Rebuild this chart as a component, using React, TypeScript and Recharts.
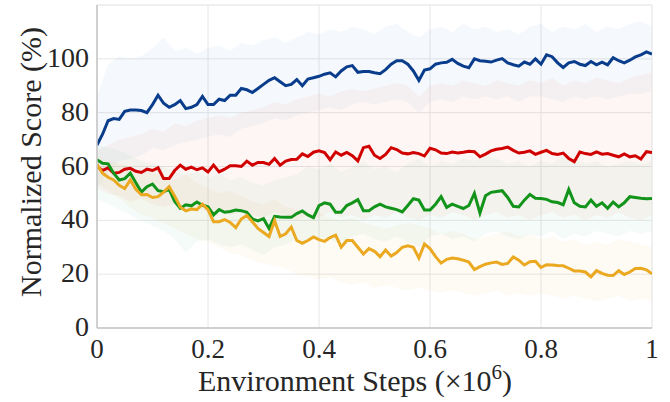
import {
  ComposedChart,
  Line,
  Area,
  XAxis,
  YAxis,
  CartesianGrid,
  ReferenceLine,
} from 'recharts';

// Normalized score curves, 101 evaluation points over 1e6 env steps.
// Shaded bands are sampled every 0.02 (51 points).

const FONT = 'Liberation Serif, Times New Roman, Times, serif';

const xTicks = [0, 0.2, 0.4, 0.6, 0.8, 1];
const yTicks = [0, 20, 40, 60, 80, 100];

const blueMean = [
  68, 72, 77, 77.8, 77.5, 80.5, 81, 81, 80.8, 80, 83, 86.5, 83.5, 82, 83, 84.5, 81.5, 82, 83, 86, 83, 83, 85, 84.5, 86.5, 86.5,
  89, 88.5, 87.5, 89, 90.5, 92, 93, 91.5, 90, 90.5, 92.3, 90, 92.5, 93, 93.5, 94.3, 94.8, 93.3, 95.5, 97, 97.5, 95, 95.3, 95.3, 94.8,
  94.5, 96, 98, 99.3, 99.3, 98, 95.5, 92, 95.8, 96.3, 98, 98.5, 98.7, 99.8, 98.3, 97.3, 96.7, 100, 99.3, 99.1, 98.8, 99.5, 100.1, 98.5, 97.8,
  97.3, 98.8, 98, 100, 98, 101.5, 100.8, 98.5, 96.8, 98.5, 99, 98, 97.5, 99, 97.8, 98.8, 97.8, 100.4, 99.3, 98.5, 99.5, 100.7, 101.5, 102.6, 101.8,
];
const redMean = [
  60, 58.5, 59.5, 57.5, 57.8, 59, 59.3, 58.2, 57.8, 59, 58.5, 59.5, 55.5, 55.5, 58.5, 60.5, 59, 59.8, 58.8, 59.5, 58, 60.5, 58, 59, 60.3, 60.3,
  60, 62, 60.5, 61.5, 61.5, 60.8, 63, 60.5, 62, 62.6, 62.7, 64.7, 63.7, 65.3, 65.8, 65.2, 62.5, 65.4, 64.2, 65.2, 64, 62.1, 67, 67.5, 64.2,
  63, 64.5, 67, 66.3, 65, 64.7, 65.2, 64.8, 63.9, 66.8, 66.2, 65, 64.8, 65.4, 65, 65.3, 65.7, 65.5, 63.6, 64.6, 65.8, 66.4, 66.7, 67.2, 66,
  65, 65.3, 65.8, 64.5, 65.3, 66, 64.8, 64.5, 65, 63, 61.8, 65.4, 64.8, 64.5, 65.4, 64.6, 64.8, 64.2, 63.6, 64.7, 63.6, 64, 62.8, 65.5, 65.2,
];
const greenMean = [
  62.5, 61.2, 61, 57.5, 55, 55.5, 57.5, 54, 50.5, 52.5, 53.5, 51, 50.6, 51.5, 47, 44.5, 45.8, 45.4, 46.8, 45.6, 45, 42, 44, 43, 43.3, 43.8,
  43.6, 43, 40.5, 39.8, 40.6, 37, 41.5, 41.2, 41.1, 41.1, 42.5, 43.5, 42, 41, 45.5, 46.5, 46, 43, 43, 45.5, 46.5, 47.7, 43.6, 43.6, 45,
  46, 45, 44.5, 44, 43.1, 45.5, 48, 47.5, 43.8, 43.8, 46, 48.8, 44.8, 46, 45.2, 44.4, 45.5, 50, 42.7, 49.1, 50.4, 50.7, 51, 48.5, 45.2,
  45, 47.5, 49.6, 48.2, 48.1, 47.8, 46.9, 46.6, 45.8, 51.5, 46.5, 45.2, 45, 47.5, 45.2, 46.5, 44.5, 46.8, 45, 46.5, 48.8, 48.5, 48.2, 48, 48.1,
];
const orangeMean = [
  60.8, 57.5, 56, 55, 53, 51.8, 55, 51.5, 49.5, 49.6, 48.5, 48.8, 50.5, 52.5, 49, 45, 43.5, 44.2, 44, 46, 44, 39.5, 39.5, 40.3, 39.2, 37.3,
  40.5, 41.8, 39.5, 37, 35.5, 34, 39.9, 34, 35, 37.5, 32.5, 31.5, 32.5, 33.8, 32.8, 32.2, 33.6, 34.5, 30, 32.5, 32.5, 30, 27.5, 29.5, 28.5,
  26.5, 29, 26.7, 28, 30, 30.5, 30, 26, 31.2, 29.5, 26.5, 24.1, 25.5, 26, 25.7, 25.2, 24.5, 21.7, 22.8, 23.7, 24.2, 24.5, 23.6, 24, 26.4,
  25.2, 23.4, 24.6, 24.8, 22.5, 23.5, 23.4, 23.2, 23.1, 22.2, 21.2, 21.2, 20.8, 19, 21.3, 20.3, 19.6, 19.5, 21.3, 19.9, 20.8, 22.1, 22.2, 21.6, 20.1,
];

const blueHi = [
  86, 98, 101, 100, 101, 104, 108, 103, 104, 102, 104, 105, 103, 106, 105, 107, 108, 106, 108, 110, 109, 111, 110, 112, 111,
  109, 112, 113, 110, 108, 111, 112, 110, 113, 111, 112, 110, 111, 109, 112, 113, 110, 112, 111, 113, 110, 112, 111, 113, 114, 112,
];
const blueLo = [
  52, 58, 62, 63, 64, 67, 66, 68, 69, 70, 71, 72, 71, 74, 75, 76, 78, 77, 79, 80, 81, 82, 81, 83, 84,
  83, 84, 85, 84, 80, 84, 85, 84, 86, 85, 86, 85, 86, 84, 86, 86, 85, 84, 86, 85, 86, 85, 86, 87, 87, 88,
];
const redHi = [
  66, 68, 70, 71, 72, 74, 73, 76, 75, 77, 78, 79, 78, 80, 81, 82, 84, 83, 85, 86, 87, 86, 88, 89, 88,
  89, 90, 91, 90, 86, 90, 91, 90, 92, 91, 90, 92, 91, 90, 92, 91, 93, 90, 92, 91, 93, 92, 91, 93, 94, 95,
];
const redLo = [
  52, 50, 49, 47, 48, 46, 45, 46, 44, 45, 43, 44, 42, 43, 42, 41, 43, 42, 40, 42, 41, 43, 41, 42, 40,
  42, 41, 43, 41, 40, 42, 41, 43, 42, 40, 42, 43, 41, 42, 40, 42, 43, 41, 42, 40, 42, 41, 43, 41, 40, 42,
];
const greenHi = [
  68, 67, 66, 64, 62, 61, 60, 58, 57, 58, 56, 57, 55, 56, 54, 53, 55, 56, 57, 60, 59, 61, 58, 60, 62,
  59, 60, 58, 61, 63, 60, 62, 61, 63, 62, 64, 63, 61, 62, 60, 62, 61, 64, 63, 61, 62, 60, 61, 62, 61, 62,
];
const greenLo = [
  48, 46, 44, 42, 40, 38, 36, 33, 28, 32, 33, 31, 30, 31, 29, 27, 30, 31, 33, 32, 34, 33, 31, 34, 35,
  33, 32, 34, 32, 30, 34, 35, 33, 34, 32, 35, 36, 34, 33, 35, 34, 36, 33, 35, 34, 36, 35, 34, 36, 35, 36,
];
const orangeHi = [
  64, 62, 61, 60, 58, 58, 56, 55, 57, 54, 52, 50, 51, 49, 47, 46, 48, 45, 44, 42, 43, 41, 40, 41, 39,
  38, 37, 38, 39, 38, 37, 35, 36, 35, 33, 34, 35, 36, 34, 35, 33, 34, 32, 33, 31, 32, 31, 33, 32, 31, 30,
];
const orangeLo = [
  54, 51, 48, 45, 42, 41, 39, 37, 35, 33, 32, 30, 28, 27, 25, 24, 23, 22, 20, 19, 18, 19, 17, 16, 17,
  15, 16, 15, 14, 15, 14, 13, 14, 13, 12, 13, 14, 12, 13, 12, 13, 12, 11, 12, 11, 10, 11, 12, 10, 11, 10,
];

const series = [
  { key: 'blue', mean: blueMean, lo: blueLo, hi: blueHi, line: '#0a3c8c', fill: '#4f93d6' },
  { key: 'red', mean: redMean, lo: redLo, hi: redHi, line: '#d00000', fill: '#e8684a' },
  { key: 'green', mean: greenMean, lo: greenLo, hi: greenHi, line: '#12941a', fill: '#3fb58a' },
  { key: 'orange', mean: orangeMean, lo: orangeLo, hi: orangeHi, line: '#eaa921', fill: '#f0b040' },
];

const toLine = (mean: number[]) => mean.map((v, i) => ({ x: i / (mean.length - 1), y: v }));
const toBand = (lo: number[], hi: number[]) =>
  lo.map((v, i) => ({ x: i / (lo.length - 1), band: [v, hi[i]] }));

const fmtX = (v: number) => (v === 0 || v === 1 ? String(v) : v.toFixed(1));

const textStyle = { fontFamily: FONT, fill: '#262626' };

function XTick({ x, y, payload }: any) {
  return (
    <text x={x} y={y} dy={22} textAnchor="middle" fontSize={27} style={textStyle}>
      {fmtX(payload.value)}
    </text>
  );
}

function YTick({ x, y, payload }: any) {
  return (
    <text x={x} y={y} dy={8} textAnchor="end" fontSize={28} style={textStyle}>
      {payload.value}
    </text>
  );
}

export default function App() {
  return (
    <div style={{ position: 'absolute', left: 0, top: 0, background: '#fff' }}>
      <ComposedChart width={670} height={402} margin={{ top: 5, right: 18, left: 0, bottom: 0 }}>
        <CartesianGrid stroke="#e6e6e6" strokeWidth={1} />
        <XAxis
          type="number"
          dataKey="x"
          domain={[0, 1]}
          ticks={xTicks}
          allowDataOverflow
          height={74}
          axisLine={{ stroke: '#c4c4c4', strokeWidth: 1.5 }}
          tickLine={false}
          tick={<XTick />}
          label={{
            content: () => (
              <text x={198} y={391} fontSize={30} style={textStyle}>
                Environment Steps (×10
                <tspan dy={-12} fontSize={21}>6</tspan>
                <tspan dy={12}>)</tspan>
              </text>
            ),
          }}
        />
        <YAxis
          type="number"
          domain={[0, 120]}
          ticks={yTicks}
          allowDataOverflow
          width={97}
          axisLine={{ stroke: '#c4c4c4', strokeWidth: 1.5 }}
          tickLine={false}
          tick={<YTick />}
          label={{
            content: () => (
              <text
                x={30}
                y={162}
                transform="rotate(-90, 30, 162)"
                textAnchor="middle"
                dominantBaseline="central"
                fontSize={30}
                style={textStyle}
              >
                Normalized Score (%)
              </text>
            ),
          }}
        />
        <ReferenceLine y={120} stroke="#ececec" />
        <ReferenceLine x={1} stroke="#ececec" />
        {series.map((s) => (
          <Area
            key={`${s.key}-band`}
            data={toBand(s.lo, s.hi)}
            dataKey="band"
            type="linear"
            stroke="none"
            fill={s.fill}
            fillOpacity={0.06}
            isAnimationActive={false}
          />
        ))}
        {series.map((s) => (
          <Line
            key={`${s.key}-line`}
            data={toLine(s.mean)}
            dataKey="y"
            type="linear"
            stroke={s.line}
            strokeWidth={3}
            dot={false}
            isAnimationActive={false}
          />
        ))}
      </ComposedChart>
    </div>
  );
}
